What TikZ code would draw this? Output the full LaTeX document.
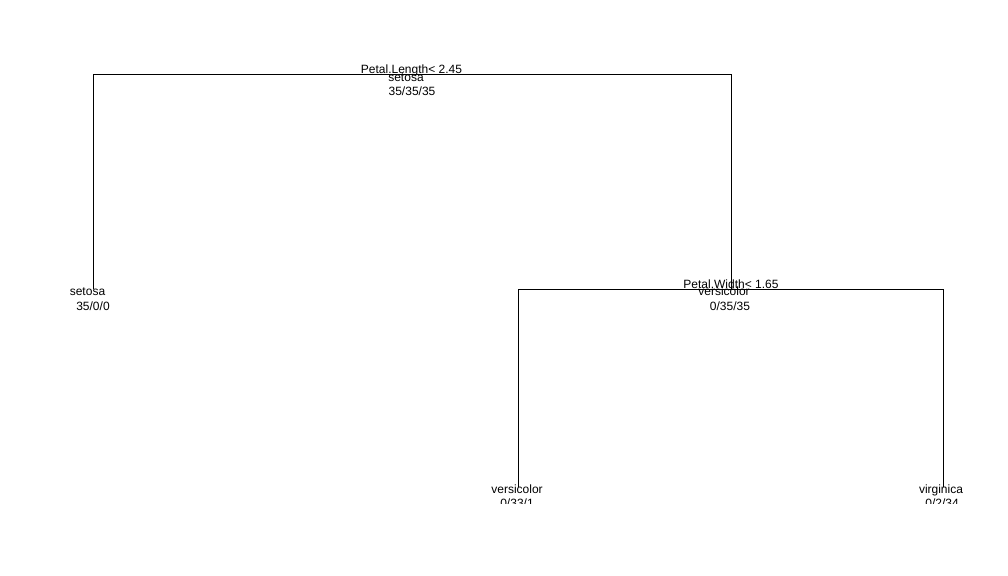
\documentclass[tikz,border=0pt]{standalone}
\usepackage{fontspec}
\setmainfont{Liberation Sans}
\begin{document}
\begin{tikzpicture}[x=1bp,y=-1bp,line width=1bp,
  lab/.style={anchor=base,inner sep=0pt,outer sep=0pt,font=\fontsize{12bp}{14bp}\selectfont}]
\useasboundingbox (0,0) rectangle (1008,576);
\fill[white] (0,0) rectangle (1008,576);
\begin{scope}
% plot region: labels of the lowest leaves are cut at its lower edge
\clip (0,0) rectangle (1008,503.5);
% tree nodes
\coordinate (root)  at (412,75);
\coordinate (leafA) at (93,289);
\coordinate (nodeB) at (731,289);
\coordinate (leafC) at (518,487);
\coordinate (leafD) at (943,487);
% branches
\draw (leafA) -- (leafA |- root) -- (nodeB |- root) -- (nodeB);
\draw (leafC) -- (leafC |- nodeB) -- (leafD |- nodeB) -- (leafD);
% root
\node[lab] (s1) at (411.5,73.5) {Petal.Length< 2.45};
\node[lab] (c1) at (406,82) {setosa};
\node[lab] (n1) at (412,95.5) {35/35/35};
% left leaf
\node[lab] (cA) at (87.5,296) {setosa};
\node[lab] (nA) at (93,310) {35/0/0};
% inner node
\node[lab] (s2) at (731,288.5) {Petal.Width< 1.65};
\node[lab] (cB) at (724,296) {versicolor};
\node[lab] (nB) at (730,310) {0/35/35};
% bottom leaves
\node[lab] (cC) at (517,493) {versicolor};
\node[lab] (nC) at (517,507) {0/33/1};
\node[lab] (cD) at (941,493) {virginica};
\node[lab] (nD) at (942,507) {0/2/34};
\end{scope}
\end{tikzpicture}
\end{document}
